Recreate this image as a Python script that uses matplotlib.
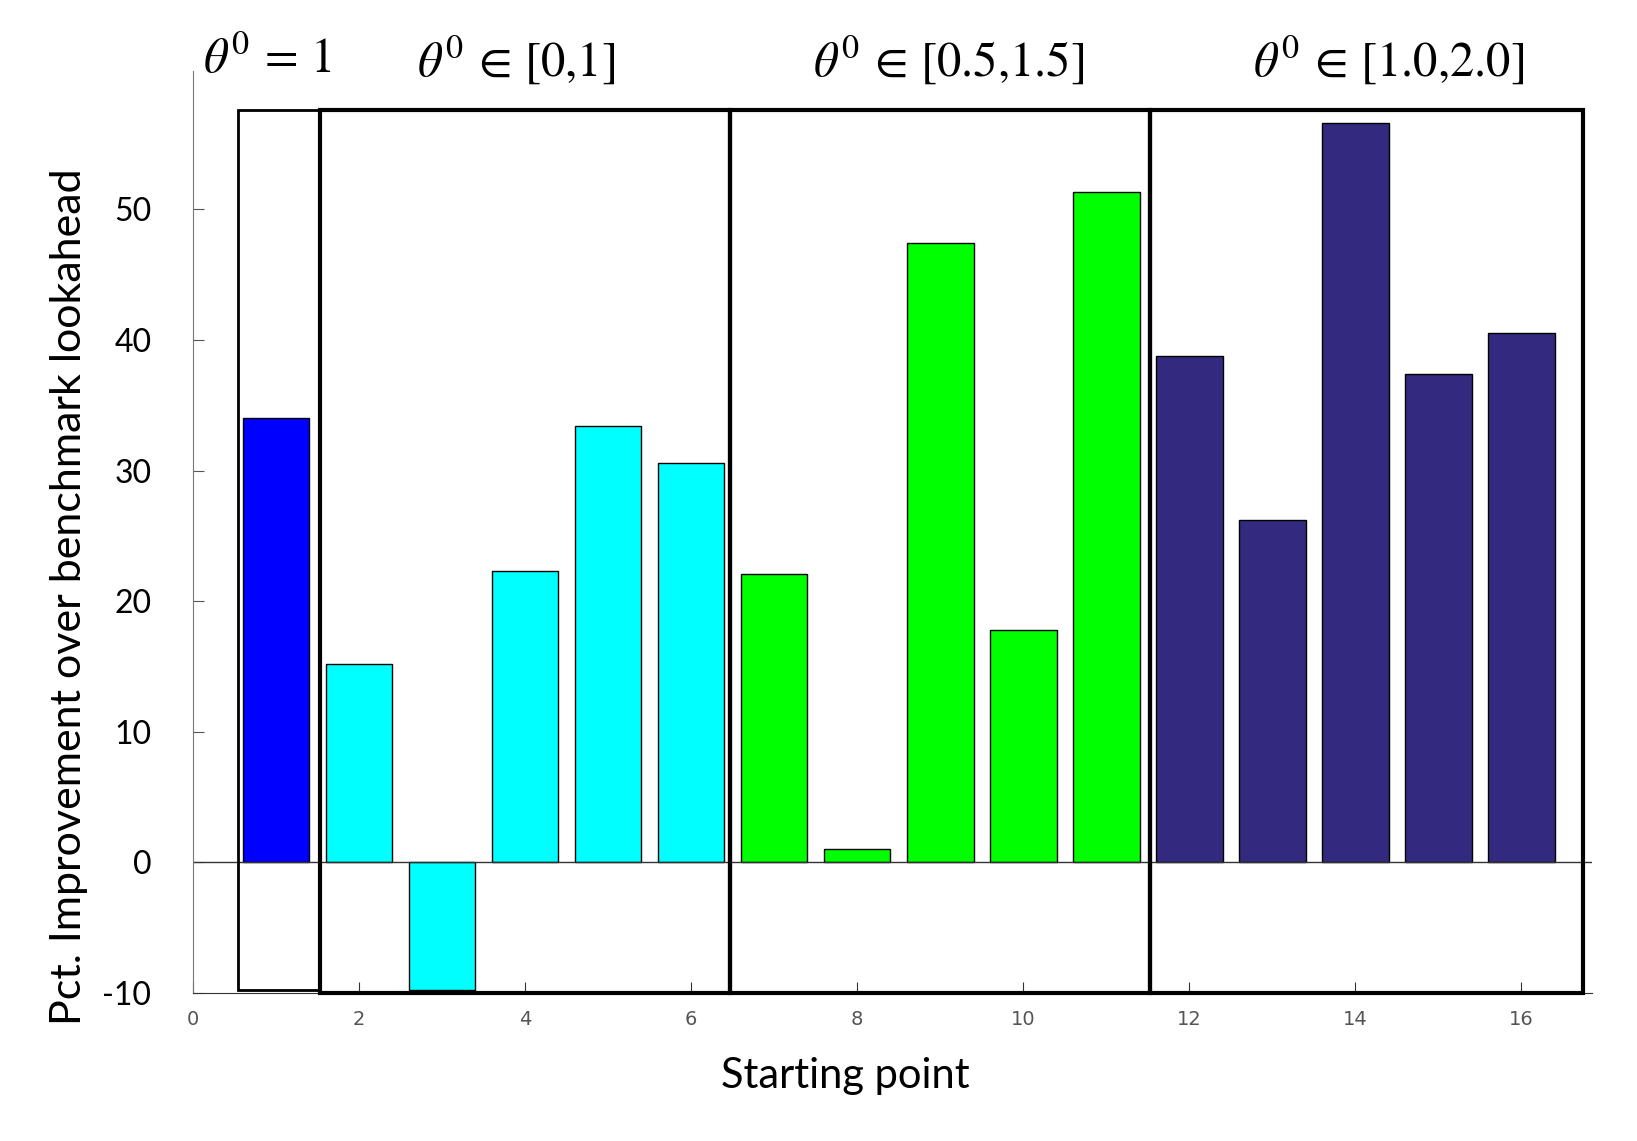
import matplotlib.pyplot as plt
from matplotlib.patches import Rectangle

plt.rcParams['axes.unicode_minus'] = False
plt.rcParams['mathtext.fontset'] = 'stix'

# data
points = list(range(1, 17))
values = [34.0, 15.2, -9.8, 22.3, 33.4, 30.6, 22.1, 1.0, 47.4, 17.8, 51.3,
          38.8, 26.2, 56.6, 37.4, 40.5]
colors = ['#0000FF'] + ['#00FFFF'] * 5 + ['#00FF00'] * 5 + ['#332A80'] * 5
group_labels = [r'$\theta^0 \,=\, 1$', r'$\theta^0 \,\in\, [0{,}1]$',
                r'$\theta^0 \,\in\, [0.5{,}1.5]$', r'$\theta^0 \,\in\, [1.0{,}2.0]$']
group_bounds = [(0.54, 1.53), (1.53, 6.47), (6.47, 11.53), (11.53, 16.74)]
group_label_x = [0.89, 3.89, 9.1, 14.4]
xticks = [0, 2, 4, 6, 8, 10, 12, 14, 16]
yticks = [-10, 0, 10, 20, 30, 40, 50]

fig = plt.figure(figsize=(16.37, 11.41), dpi=100)
ax = fig.add_axes([0.118, 0.1297, 0.8545, 0.8081])

ax.bar(points, values, width=0.8, color=colors, edgecolor='black', linewidth=1)
ax.axhline(0, color='#333333', linewidth=1)

# group boxes
for i, (x0, x1) in enumerate(group_bounds):
    bottom = -9.8 if i == 0 else -10
    lw = 2 if i == 0 else 3
    ax.add_patch(Rectangle((x0, bottom), x1 - x0, 57.6 - bottom, fill=False,
                           edgecolor='black', linewidth=lw, clip_on=False, zorder=5))

for lab, x in zip(group_labels, group_label_x):
    ax.text(x, 61.5, lab, ha='center', va='center', fontsize=35, clip_on=False)

ax.set_xlim(0, 16.85)
ax.set_ylim(-10, 60.6)
ax.set_xticks(xticks)
ax.set_yticks(yticks)
ax.set_xticklabels([str(t) for t in xticks], fontsize=14, color='#555555',
                   family=['Liberation Sans Narrow', 'DejaVu Sans'])
ax.set_yticklabels([str(t) for t in yticks], fontsize=23, family='Lato')
ax.tick_params(axis='x', direction='in', length=8, color='#333333', pad=12)
ax.tick_params(axis='y', direction='in', length=8, color='#555555', pad=30)

for s in ['top', 'right']:
    ax.spines[s].set_visible(False)
ax.spines['left'].set_color('#777777')
ax.spines['bottom'].set_color('#333333')

ax.set_xlabel('Starting point', fontsize=30, family='Lato')
ax.xaxis.set_label_coords(0.466, -0.069)
ax.set_ylabel('Pct. Improvement over benchmark lookahead', fontsize=31, family='Lato')
ax.yaxis.set_label_coords(-0.0755, 0.43)

fig.savefig('out.png', dpi=100)
